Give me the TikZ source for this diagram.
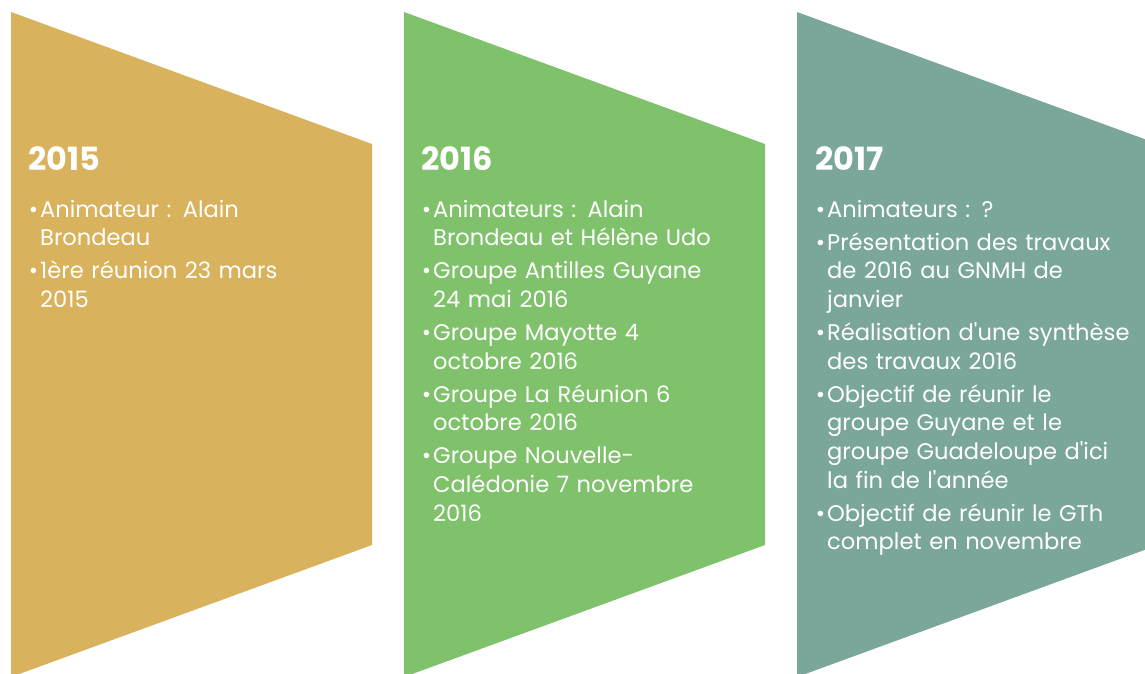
\documentclass[tikz,border=0pt]{standalone}
\usepackage{fontspec}
\setmainfont{Poppins}
\usetikzlibrary{positioning}
\definecolor{gold}{HTML}{D8B25C}
\definecolor{leaf}{HTML}{80C16C}
\definecolor{sage}{HTML}{7AA69B}
\newcommand{\puce}{\noindent\llap{\textbullet\hspace{2pt}}}
\newcommand{\apo}{\textquotesingle}

\begin{document}
\begin{tikzpicture}[x=1pt,y=-1pt,
	year/.style={anchor=base west,inner sep=0,text=white,font=\fontsize{32}{32}\selectfont\bfseries},
	items/.style={anchor=base west,inner sep=0,text=white,text width=330pt,align=left,
		font=\fontsize{22.6}{28.7}\selectfont\setlength{\parskip}{4.3pt}}]
	\useasboundingbox (0,0) rectangle (1145,673);
	\clip (0,0) rectangle (1145,673);
	% panels
	\foreach \x/\c in {11/gold,404/leaf,797/sage}
		\fill[\c] (\x,12) -- (\x+361,144) -- (\x+361,545) -- (\x,677) -- cycle;
	% 2015
	\node[year] (y15) at (28,170) {2015};
	\node[items] (t15) at (40,217) {\puce Animateur : Alain\newline Brondeau\par
		\puce 1ère réunion 23 mars\newline 2015};
	% 2016
	\node[year] (y16) at (421,170) {2016};
	\node[items] (t16) at (433,217) {\puce Animateurs : Alain\newline Brondeau et Hélène Udo\par
		\puce Groupe Antilles Guyane\newline 24 mai 2016\par
		\puce Groupe Mayotte 4\newline octobre 2016\par
		\puce Groupe La Réunion 6\newline octobre 2016\par
		\puce Groupe Nouvelle-\newline Calédonie 7 novembre\newline 2016};
	% 2017
	\node[year] (y17) at (815,170) {2017};
	\node[items] (t17) at (827,217) {\puce Animateurs : ?\par
		\puce Présentation des travaux\newline de 2016 au GNMH de\newline janvier\par
		\puce Réalisation d\apo une synthèse\newline des travaux 2016\par
		\puce Objectif de réunir le\newline groupe Guyane et le\newline groupe Guadeloupe d\apo ici\newline la fin de l\apo année\par
		\puce Objectif de réunir le GTh\newline complet en novembre};
\end{tikzpicture}
\end{document}
